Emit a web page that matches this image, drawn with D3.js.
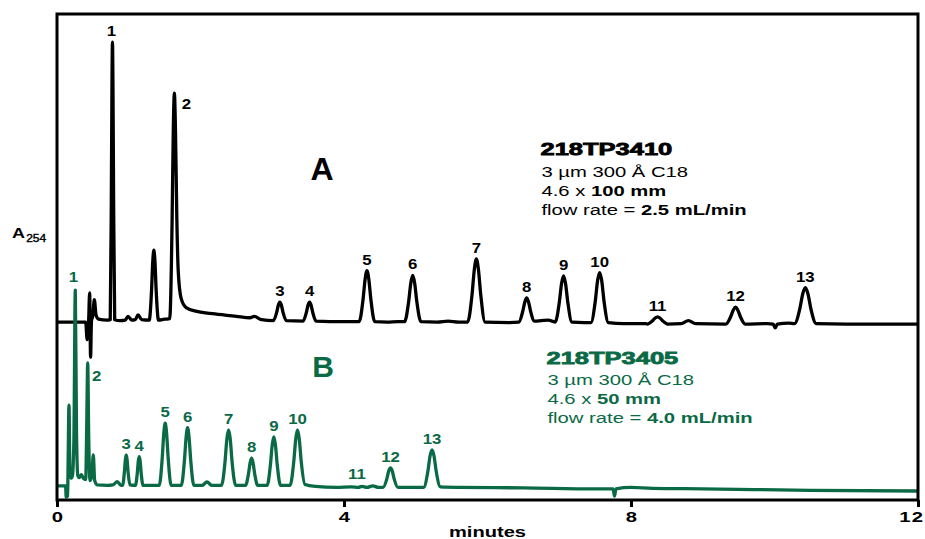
<!DOCTYPE html>
<html>
<head>
<meta charset="utf-8">
<script src="https://cdn.jsdelivr.net/npm/d3@7"></script>
<style>
  body { margin: 0; background: #fff; }
  svg { display: block; font-family: "Liberation Sans", Arial, sans-serif; }
</style>
</head>
<body>
<div id="chart"></div>
<script>
// minutes on the x axis
const minutesTicks = [0, 4, 8, 12];

// trace A: 218TP3410, [time (min), A254 (arbitrary units)]
const traceA = [
  [0, 36.6], [0.40, 36.6], [0.42, 33.0], [0.44, 36.4], [0.455, 42.6], [0.468, 29.4], [0.48, 36.8],
  [0.50, 38.0], [0.52, 41.2], [0.545, 38.0], [0.58, 37.2], [0.70, 37.0],
  [0.742, 37.1], [0.757, 61.6], [0.766, 85.0], [0.773, 94.2], [0.780, 85.0], [0.789, 61.6], [0.804, 37.1],
  [0.88, 36.9], [0.95, 37.0], [0.99, 37.8], [1.04, 37.0], [1.09, 37.1], [1.13, 38.1], [1.18, 37.1],
  [1.285, 37.0], [1.318, 43.2], [1.335, 49.1], [1.35, 51.4], [1.365, 49.1], [1.382, 43.2], [1.415, 37.0],
  [1.50, 37.2],
  [1.571, 37.3], [1.604, 57.2], [1.621, 76.3], [1.636, 83.7], [1.651, 76.3], [1.67, 58.0], [1.69, 47.0],
  [1.73, 41.5], [1.80, 39.6], [1.95, 38.8], [2.2, 38.3], [2.5, 37.8], [2.69, 37.5], [2.75, 37.8], [2.85, 37.1],
  [3.015, 36.9], [3.06, 38.5], [3.085, 40.1], [3.106, 40.7], [3.127, 40.1], [3.152, 38.5], [3.197, 36.9],
  [3.429, 36.8], [3.474, 38.5], [3.499, 40.1], [3.52, 40.7], [3.541, 40.1], [3.566, 38.5], [3.611, 36.8],
  [3.8, 36.7], [4.1, 36.7],
  [4.211, 36.7], [4.265, 41.2], [4.295, 45.5], [4.32, 47.2], [4.345, 45.5], [4.375, 41.2], [4.429, 36.7],
  [4.6, 36.6], [4.75, 36.7],
  [4.844, 36.7], [4.901, 40.8], [4.932, 44.7], [4.958, 46.2], [4.984, 44.7], [5.015, 40.8], [5.072, 36.7],
  [5.3, 36.6], [5.45, 36.8], [5.6, 36.6],
  [5.723, 36.6], [5.784, 42.2], [5.817, 47.5], [5.845, 49.6], [5.873, 47.5], [5.906, 42.2], [5.967, 36.6],
  [6.3, 36.5],
  [6.437, 36.6], [6.491, 38.8], [6.521, 40.8], [6.546, 41.6], [6.571, 40.8], [6.601, 38.8], [6.655, 36.8],
  [6.75, 36.9], [6.85, 37.0], [6.9, 36.8],
  [6.943, 36.6], [7.001, 40.7], [7.033, 44.6], [7.06, 46.1], [7.087, 44.6], [7.119, 40.7], [7.177, 36.6],
  [7.35, 36.5],
  [7.441, 36.5], [7.502, 40.9], [7.535, 45.2], [7.563, 46.8], [7.591, 45.2], [7.624, 40.9], [7.685, 36.5],
  [7.9, 36.3], [8.2, 36.3],
  [8.227, 36.2], [8.298, 36.85], [8.337, 37.46], [8.37, 37.7], [8.403, 37.46], [8.442, 36.85], [8.513, 36.2],
  [8.7, 36.3], [8.8, 36.9], [8.9, 36.3],
  [9.322, 36.2], [9.389, 37.7], [9.426, 39.1], [9.457, 39.7], [9.488, 39.1], [9.525, 37.7], [9.592, 36.2],
  [9.9, 36.3], [9.98, 36.2], [10.01, 35.4], [10.04, 36.2], [10.2, 36.4],
  [10.279, 36.3], [10.355, 39.5], [10.395, 42.5], [10.43, 43.7], [10.465, 42.5], [10.505, 39.5], [10.581, 36.3],
  [11, 36.2], [12, 36.2]
];

// trace B: 218TP3405
const traceB = [
  [0, 2.9], [0.12, 2.9], [0.128, 0.6], [0.148, 0.8], [0.155, 8.0], [0.167, 19.5], [0.18, 6.0],
  [0.195, 4.5], [0.215, 5.0], [0.235, 12.0], [0.255, 43.2], [0.272, 14.0], [0.29, 5.0],
  [0.31, 4.6], [0.34, 5.2], [0.37, 4.4], [0.40, 4.2], [0.414, 15.0], [0.428, 28.2], [0.442, 13.0],
  [0.46, 4.0], [0.485, 5.0], [0.506, 9.3], [0.525, 4.0], [0.56, 3.1],
  [0.7, 3.0], [0.78, 3.1], [0.84, 3.8], [0.89, 3.0],
  [0.913, 3.0], [0.939, 5.7], [0.953, 8.3], [0.965, 9.3], [0.977, 8.3], [0.991, 5.7], [1.017, 3.1],
  [1.091, 3.0], [1.119, 5.5], [1.133, 8.0], [1.146, 8.9], [1.159, 8.0], [1.173, 5.5], [1.201, 3.0],
  [1.3, 3.0],
  [1.425, 3.0], [1.466, 8.5], [1.489, 13.8], [1.508, 15.8], [1.527, 13.8], [1.55, 8.5], [1.591, 3.0],
  [1.732, 3.0], [1.776, 8.1], [1.8, 13.0], [1.82, 14.9], [1.84, 13.0], [1.864, 8.1], [1.908, 3.0],
  [2.02, 3.0], [2.09, 3.7], [2.16, 3.0],
  [2.292, 3.0], [2.342, 7.9], [2.368, 12.6], [2.391, 14.4], [2.414, 12.6], [2.44, 7.9], [2.49, 3.0],
  [2.626, 3.0], [2.669, 5.4], [2.692, 7.7], [2.712, 8.6], [2.732, 7.7], [2.755, 5.4], [2.798, 3.0],
  [2.928, 3.0], [2.975, 7.3], [3.0, 11.4], [3.022, 13.0], [3.044, 11.4], [3.069, 7.3], [3.116, 3.0],
  [3.248, 3.0], [3.3, 7.9], [3.328, 12.6], [3.352, 14.4], [3.376, 12.6], [3.404, 7.9], [3.456, 3.2],
  [3.6, 2.8], [3.9, 2.6], [4.1, 2.7],
  [4.2, 2.6], [4.25, 2.8], [4.32, 2.6], [4.4, 2.9], [4.48, 2.6],
  [4.544, 2.6], [4.596, 4.3], [4.624, 6.0], [4.648, 6.6], [4.672, 6.0], [4.7, 4.3], [4.752, 2.6],
  [5.11, 2.6], [5.169, 5.9], [5.2, 9.1], [5.227, 10.3], [5.254, 9.1], [5.285, 5.9], [5.344, 2.7],
  [5.6, 2.6], [6.5, 2.5], [7.5, 2.3], [7.75, 2.3], [7.77, 0.8], [7.79, 2.3],
  [8.0, 2.6], [8.3, 2.4], [9.0, 2.3], [10.5, 2.0], [12, 1.85]
];

// peak numbers, retention times and apex heights
const peakNames = ["1", "2", "3", "4", "5", "6", "7", "8", "9", "10", "11", "12", "13"];
const peakTimesA = [0.773, 1.636, 3.106, 3.52, 4.32, 4.958, 5.845, 6.546, 7.06, 7.563, 8.37, 9.457, 10.43];
const peakTopsA = [94.2, 83.7, 40.7, 40.7, 47.2, 46.2, 49.6, 41.6, 46.1, 46.8, 37.7, 39.7, 43.7];
const peakTimesB = [0.255, 0.428, 0.965, 1.146, 1.508, 1.82, 2.391, 2.712, 3.022, 3.352, 4.18, 4.648, 5.227];
const peakTopsB = [43.2, 28.2, 9.3, 8.9, 15.8, 14.9, 14.4, 8.6, 13.0, 14.4, 3.0, 6.6, 10.3];

// column descriptions (odd segments are bold)
const columnNames = ["218TP3410", "218TP3405"];
const columnSpecsA = [["3 µm 300 Å C18"], ["4.6 x ", "100 mm"], ["flow rate = ", "2.5 mL/min"]];
const columnSpecsB = [["3 µm 300 Å C18"], ["4.6 x ", "50 mm"], ["flow rate = ", "4.0 mL/min"]];

const green = "#0b6a46";
const width = 925, height = 539;
const margin = { top: 14, right: 7, bottom: 39, left: 57 };

const svg = d3.select("#chart").append("svg")
  .attr("width", width)
  .attr("height", height);

const x = d3.scaleLinear().domain([0, 12]).range([margin.left, width - margin.right]);
const y = d3.scaleLinear().domain([0, 100]).range([height - margin.bottom, margin.top]);

svg.append("clipPath").attr("id", "plot-clip")
  .append("rect")
  .attr("x", x(0)).attr("y", y(100))
  .attr("width", x(12) - x(0)).attr("height", y(0) - y(100));

const line = d3.line()
  .x(d => x(d[0]))
  .y(d => y(d[1]))
  .curve(d3.curveMonotoneX);

const traces = svg.append("g").attr("clip-path", "url(#plot-clip)");

traces.append("path")
  .datum(traceA)
  .attr("d", line)
  .attr("fill", "none")
  .attr("stroke", "#000")
  .attr("stroke-width", 3.3)
  .attr("stroke-linejoin", "round");

traces.append("path")
  .datum(traceB)
  .attr("d", line)
  .attr("fill", "none")
  .attr("stroke", green)
  .attr("stroke-width", 3.3)
  .attr("stroke-linejoin", "round");

// frame
svg.append("rect")
  .attr("x", x(0)).attr("y", y(100))
  .attr("width", x(12) - x(0)).attr("height", y(0) - y(100))
  .attr("fill", "none")
  .attr("stroke", "#000")
  .attr("stroke-width", 3);

// x axis
const xAxis = svg.append("g")
  .attr("transform", `translate(0,${y(0)})`)
  .call(d3.axisBottom(x).tickValues(minutesTicks).tickSize(7).tickPadding(4).tickFormat(d3.format("d")));

xAxis.select(".domain").remove();
xAxis.selectAll(".tick line").attr("stroke", "#000").attr("stroke-width", 3);
xAxis.selectAll(".tick text")
  .attr("fill", "#000")
  .attr("font-size", 15)
  .attr("font-weight", "bold")
  .attr("letter-spacing", d => d >= 10 ? 1 : 0)
  .attr("dx", d => d === 12 ? -5 : 0)
  .attr("transform", "scale(1.35,1)");

svg.append("text")
  .attr("transform", `translate(${(x(0) + x(12)) / 2},537) scale(1.34,1)`)
  .attr("text-anchor", "middle")
  .attr("font-size", 15)
  .attr("font-weight", "bold")
  .text("minutes");

// y axis label A254
const yLabel = svg.append("text")
  .attr("transform", "translate(12,238) scale(1.2,1)")
  .attr("font-size", 15)
  .attr("font-weight", "bold");
yLabel.append("tspan").text("A");
yLabel.append("tspan")
  .attr("dy", 3.7)
  .attr("dx", 1)
  .attr("font-size", 10)
  .attr("font-weight", "normal")
  .attr("stroke", "#000")
  .attr("stroke-width", 0.4)
  .text("254");

// peak labels
const labelShift = { A2: [12, 11], B2: [9, 13], B1: [-2, -13], A1: [-1, -11] };

function drawPeakLabels(times, tops, key, color) {
  svg.append("g")
    .selectAll("text")
    .data(peakNames)
    .join("text")
    .attr("transform", (d, i) => {
      const s = labelShift[key + d] || [0, -11];
      return `translate(${x(times[i]) + s[0]},${y(tops[i]) + s[1] + 5}) scale(1.2,1)`;
    })
    .attr("text-anchor", "middle")
    .attr("font-size", 14)
    .attr("font-weight", "bold")
    .attr("fill", color)
    .text(d => d);
}

drawPeakLabels(peakTimesA, peakTopsA, "A", "#000");
drawPeakLabels(peakTimesB, peakTopsB, "B", green);

// trace letters
svg.append("text")
  .attr("x", 322).attr("y", 180)
  .attr("text-anchor", "middle")
  .attr("font-size", 32)
  .attr("font-weight", "bold")
  .text("A");

svg.append("text")
  .attr("x", 323).attr("y", 377)
  .attr("text-anchor", "middle")
  .attr("font-size", 30)
  .attr("font-weight", "bold")
  .attr("fill", green)
  .text("B");

// column descriptions
function drawColumnInfo(name, specs, left, top, color) {
  svg.append("text")
    .attr("transform", `translate(${left},${top}) scale(1.5,1)`)
    .attr("font-size", 17)
    .attr("font-weight", "bold")
    .attr("fill", color)
    .attr("stroke", color)
    .attr("stroke-width", 0.8)
    .text(name);

  specs.forEach((segments, i) => {
    const t = svg.append("text")
      .attr("transform", `translate(${left + 1},${top + 21.5 + i * 19.2}) scale(1.35,1)`)
      .attr("font-size", 15)
      .attr("fill", color);
    segments.forEach((s, j) => {
      t.append("tspan")
        .attr("font-weight", j % 2 ? "bold" : "normal")
        .text(s);
    });
  });
}

drawColumnInfo(columnNames[0], columnSpecsA, 540.5, 155, "#000");
drawColumnInfo(columnNames[1], columnSpecsB, 546.5, 363.5, green);
</script>
</body>
</html>
